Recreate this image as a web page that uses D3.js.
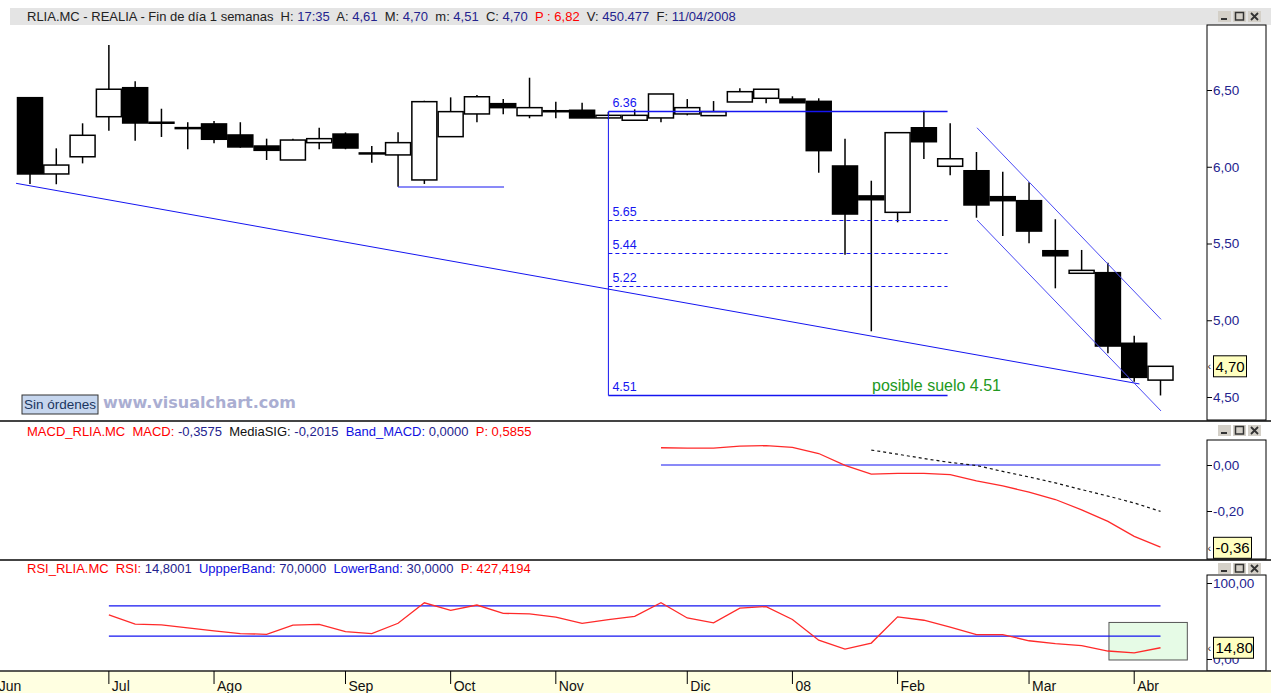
<!DOCTYPE html>
<html lang="es">
<head>
<meta charset="utf-8">
<script src="https://cdn.jsdelivr.net/npm/d3@7"></script>
<style>
  body { margin: 0; background: #fff; }
  svg { display: block; font-family: "Liberation Sans", Arial, sans-serif; }
</style>
</head>
<body>
<script>
// velas semanales RLIA.MC (jun 2007 - abr 2008)
const opens  = [6.45, 5.953, 6.065, 6.326, 6.515, 6.29, 6.255, 6.279, 6.207, 6.135, 6.044, 6.157, 6.213, 6.09, 6.077,
                5.914, 6.196, 6.344, 6.411, 6.333, 6.365, 6.368, 6.318, 6.303, 6.318, 6.344, 6.333, 6.422, 6.446, 6.441,
                6.426, 6.005, 5.81, 5.703, 6.254, 6.003, 5.974, 5.805, 5.779, 5.453, 5.306, 5.31, 4.85, 4.61];
const highs  = [6.45, 6.12, 6.283, 6.793, 6.557, 6.378, 6.29, 6.298, 6.29, 6.183, 6.183, 6.254, 6.224, 6.135, 6.224,
                6.43, 6.452, 6.467, 6.441, 6.58, 6.424, 6.417, 6.357, 6.374, 6.474, 6.441, 6.428, 6.511, 6.505, 6.459,
                6.446, 6.183, 5.909, 6.222, 6.365, 6.283, 6.096, 5.968, 5.899, 5.658, 5.458, 5.375, 4.899, 4.70];
const lows   = [5.888, 5.886, 6.022, 6.235, 6.17, 6.194, 6.114, 6.153, 6.124, 6.044, 6.044, 6.114, 6.114, 6.026, 5.87,
                5.888, 6.196, 6.29, 6.342, 6.316, 6.316, 6.318, 6.31, 6.30, 6.29, 6.335, 6.333, 6.422, 6.413, 6.417,
                5.961, 5.427, 4.928, 5.638, 6.05, 5.944, 5.668, 5.549, 5.501, 5.208, 5.306, 4.785, 4.60, 4.51];
const closes = [5.953, 6.011, 6.205, 6.505, 6.285, 6.29, 6.25, 6.179, 6.129, 6.107, 6.174, 6.183, 6.122, 6.09, 6.157,
                6.424, 6.359, 6.456, 6.385, 6.385, 6.365, 6.318, 6.335, 6.335, 6.474, 6.385, 6.359, 6.489, 6.505, 6.417,
                6.105, 5.692, 5.785, 6.222, 6.163, 6.052, 5.751, 5.779, 5.581, 5.42, 5.325, 4.832, 4.628, 4.70];

// MACD y senal (desde la semana 24 / 32)
const macdStart = 24;
const macdValues = [0.075, 0.073, 0.073, 0.082, 0.084, 0.077, 0.050, -0.002, -0.040, -0.036, -0.036, -0.042,
                    -0.069, -0.091, -0.118, -0.150, -0.195, -0.245, -0.310, -0.3575];
const signalStart = 32;
const signalValues = [0.065, 0.047, 0.028, 0.011, -0.002, -0.028, -0.052, -0.078, -0.107, -0.135, -0.165, -0.2015];

// RSI (desde la semana 3)
const rsiStart = 3;
const rsiValues = [58, 46, 45, 41, 37, 33.5, 32.5, 44.5, 45.5, 36, 33.5, 47, 74, 64, 71, 60, 59.5, 55, 47, 51.9, 56,
                   74, 54, 47.6, 67, 69, 52, 24.7, 13, 21, 55.5, 51, 42, 32, 32, 24, 20.3, 17.5, 10.5, 8, 14.8];

const monthLabels = ["Jun", "Jul", "Ago", "Sep", "Oct", "Nov", "Dic", "08", "Feb", "Mar", "Abr"];
const monthWeeks  = [-1.3, 3, 7, 12, 16, 20, 25, 29, 33, 38, 42];

const priceTicks = [4.5, 5, 5.5, 6, 6.5];
const macdTicks = [0, -0.2];
const rsiTicks = [0, 100];
const rsiBands = [70, 30];

// dibujo: lineas de tendencia [semana, precio]
const trendLong = [[-0.53, 5.892], [42.2, 4.585]];
const supportLine = [[14, 5.868], [18.03, 5.868]];
const channelUpper = [[36.02, 6.254], [43.02, 5.006]];
const channelLower = [[36.02, 5.653], [43.02, 4.409]];
const fibLevels = [6.36, 5.65, 5.44, 5.22, 4.51];
const fibWeeks = [22, 34.9];

const W = 1271, H = 693;
const svg = d3.select("body").append("svg").attr("width", W).attr("height", H);

const loc = d3.formatLocale({decimal: ",", thousands: ".", grouping: [3], currency: ["", ""], minus: "-"});
const fmt2 = loc.format(".2f");

const x = d3.scaleLinear().domain([0, 43]).range([30, 1160.5]);
const y = d3.scaleLinear().domain([4.5, 6.5]).range([397, 90]);
const yM = d3.scaleLinear().domain([-0.2, 0]).range([511, 465]);
const yR = d3.scaleLinear().domain([0, 100]).range([659, 583]);

const navy = "#23238e";

// marcos
svg.append("rect").attr("x", 10).attr("y", 8).attr("width", W - 10).attr("height", 17).attr("fill", "#e4e4e4");
[421, 560].forEach(v => svg.append("line").attr("x1", 0).attr("x2", W).attr("y1", v).attr("y2", v)
  .attr("stroke", "#444").attr("stroke-width", 2));
const boxes = [[25, 420], [440, 559], [575, 671]];
boxes.forEach((b, i) => {
  svg.append("clipPath").attr("id", "ax" + i).append("rect")
    .attr("x", -1).attr("y", b[0]).attr("width", 60).attr("height", b[1] - b[0]);
  svg.append("rect").attr("x", 1207).attr("y", b[0]).attr("width", 59).attr("height", b[1] - b[0])
    .attr("fill", "#fff").attr("stroke", "#000");
});

// botones de ventana
function buttons(y0) {
  const g = svg.append("g").attr("transform", `translate(1218,${y0})`);
  [0, 15, 30].forEach((dx, i) => {
    g.append("rect").attr("x", dx).attr("y", 0).attr("width", 13).attr("height", 11).attr("fill", "#d4d0c8");
    if (i === 0) g.append("rect").attr("x", dx + 3).attr("y", 7).attr("width", 6).attr("height", 2).attr("fill", "#333");
    if (i === 1) g.append("rect").attr("x", dx + 2.5).attr("y", 1.5).attr("width", 8).attr("height", 7.5)
      .attr("fill", "none").attr("stroke", "#333").attr("stroke-width", 1.5);
    if (i === 2) g.append("path").attr("d", `M${dx + 3},2L${dx + 10},9M${dx + 10},2L${dx + 3},9`)
      .attr("stroke", "#333").attr("stroke-width", 1.8);
  });
}
buttons(11); buttons(425); buttons(563);

// textos de cabecera
function header(yb, parts) {
  const t = svg.append("text").attr("x", 27).attr("y", yb).attr("font-size", 13).attr("xml:space", "preserve");
  parts.forEach(p => t.append("tspan").attr("fill", p[1]).text(p[0]));
}
header(21, [["RLIA.MC - REALIA - Fin de día 1 semanas  H: ", "#222"], ["17:35", navy], ["  A: ", "#222"], ["4,61", navy],
  ["  M: ", "#222"], ["4,70", navy], ["  m: ", "#222"], ["4,51", navy], ["  C: ", "#222"], ["4,70", navy],
  ["  P : 6,82", "#f00"], ["  V: ", "#222"], ["450.477", navy], ["  F: ", "#222"], ["11/04/2008", navy]]);
header(436, [["MACD_RLIA.MC  MACD: ", "#f00"], ["-0,3575", navy], ["  MediaSIG: ", "#111"], ["-0,2015", navy],
  ["  Band_MACD: ", "#1010e0"], ["0,0000", navy], ["  P: 0,5855", "#f00"]]);
header(573, [["RSI_RLIA.MC  RSI: ", "#f00"], ["14,8001", navy], ["  UppperBand: ", "#1010e0"], ["70,0000", navy],
  ["  LowerBand: ", "#1010e0"], ["30,0000", navy], ["  P: 427,4194", "#f00"]]);

// ejes de valores
function valueAxis(scale, ticks, i) {
  const g = svg.append("g").attr("transform", "translate(1207,0)").attr("clip-path", `url(#ax${i})`)
    .call(d3.axisRight(scale).tickValues(ticks).tickSize(5).tickPadding(1).tickFormat(fmt2));
  g.select(".domain").remove();
  g.selectAll("text").attr("fill", navy).attr("font-size", 13.5).attr("font-family", "Liberation Sans, Arial, sans-serif");
  g.selectAll("line").attr("stroke", "#000");
}
valueAxis(y, priceTicks, 0);
valueAxis(yM, macdTicks, 1);
valueAxis(yR, rsiTicks, 2);

function valueTag(yv, label, w) {
  svg.append("text").attr("x", 1207.5).attr("y", yv + 4).attr("font-size", 11).attr("fill", "#333").text("‹");
  svg.append("rect").attr("x", 1213.5).attr("y", yv - 10.5).attr("width", w).attr("height", 21)
    .attr("fill", "#ffffc0").attr("stroke", "#000");
  svg.append("text").attr("x", 1215.5).attr("y", yv + 5.5).attr("font-size", 15).attr("fill", "#000").text(label);
}

// velas
const candles = svg.append("g");
opens.forEach((o, i) => {
  const c = closes[i], cx = x(i);
  candles.append("line").attr("x1", cx).attr("x2", cx).attr("y1", y(highs[i])).attr("y2", y(lows[i]))
    .attr("stroke", "#000").attr("stroke-width", 1.5);
  const top = y(Math.max(o, c)), bot = y(Math.min(o, c));
  candles.append("rect").attr("x", cx - 12.5).attr("width", 25)
    .attr("y", top).attr("height", Math.max(1, bot - top))
    .attr("fill", c >= o ? "#fff" : "#000").attr("stroke", "#000").attr("stroke-width", 1.5);
});

// lineas de dibujo
const seg = d3.line().x(d => x(d[0])).y(d => y(d[1]));
svg.append("path").attr("d", seg(trendLong)).attr("stroke", "#1515f0").attr("fill", "none");
svg.append("path").attr("d", seg(supportLine)).attr("stroke", "#1515f0").attr("fill", "none");
[channelUpper, channelLower].forEach(l => svg.append("path").attr("d", seg(l))
  .attr("stroke", "#4a4af5").attr("fill", "none"));

svg.append("line").attr("x1", x(fibWeeks[0])).attr("x2", x(fibWeeks[0]))
  .attr("y1", y(fibLevels[0])).attr("y2", y(fibLevels[4])).attr("stroke", "#1515f0");
fibLevels.forEach((f, i) => {
  const solid = i === 0 || i === fibLevels.length - 1;
  const yy = Math.round(y(f)) + 0.5;
  svg.append("line").attr("x1", x(fibWeeks[0])).attr("x2", x(fibWeeks[1])).attr("y1", yy).attr("y2", yy)
    .attr("stroke", "#1515f0").attr("stroke-width", solid ? 1.3 : 1).attr("stroke-dasharray", solid ? null : "4,3");
  svg.append("text").attr("x", x(fibWeeks[0]) + 4).attr("y", yy - 5).attr("font-size", 12.5)
    .attr("fill", "#1515f0").text(f.toFixed(2));
});

svg.append("text").attr("x", 872).attr("y", 391).attr("font-size", 16).attr("fill", "#229922")
  .text("posible suelo 4.51");

svg.append("rect").attr("x", 22).attr("y", 395).attr("width", 76).attr("height", 19)
  .attr("fill", "#c6d6ee").attr("stroke", "#333");
svg.append("text").attr("x", 24).attr("y", 409).attr("font-size", 13.5).attr("fill", "#1a3560").text("Sin órdenes");
svg.append("text").attr("x", 103).attr("y", 408).attr("font-size", 16).attr("font-weight", "bold")
  .attr("font-family", "DejaVu Sans, Verdana, sans-serif")
  .attr("fill", "#aaaed2").text("www.visualchart.com");

valueTag(y(4.70), "4,70", 33);

// MACD
svg.append("line").attr("x1", x(macdStart)).attr("x2", x(43)).attr("y1", yM(0)).attr("y2", yM(0)).attr("stroke", "#1515f0");
svg.append("path").datum(macdValues)
  .attr("d", d3.line().x((d, i) => x(macdStart + i)).y(d => yM(d)))
  .attr("fill", "none").attr("stroke", "#ff2a2a").attr("stroke-width", 1.3);
svg.append("path").datum(signalValues)
  .attr("d", d3.line().x((d, i) => x(signalStart + i)).y(d => yM(d)))
  .attr("fill", "none").attr("stroke", "#111").attr("stroke-width", 1.2).attr("stroke-dasharray", "3,3");
valueTag(yM(-0.36), "-0,36", 38);

// RSI
svg.append("rect").attr("x", x(41.04)).attr("width", x(44.02) - x(41.04))
  .attr("y", yR(48.1)).attr("height", yR(-1.3) - yR(48.1))
  .attr("fill", "#e6fbe6").attr("stroke", "#555");
rsiBands.forEach(b => svg.append("line").attr("x1", x(rsiStart)).attr("x2", x(43))
  .attr("y1", yR(b)).attr("y2", yR(b)).attr("stroke", "#1515f0").attr("stroke-width", 1.3));
svg.append("path").datum(rsiValues)
  .attr("d", d3.line().x((d, i) => x(rsiStart + i)).y(d => yR(d)))
  .attr("fill", "none").attr("stroke", "#ff2a2a").attr("stroke-width", 1.3);
valueTag(yR(14.8), "14,80", 40);

// eje temporal
svg.append("rect").attr("x", 0).attr("y", 671).attr("width", W).attr("height", 22).attr("fill", "#ffffe1");
svg.append("line").attr("x1", 0).attr("x2", W).attr("y1", 671).attr("y2", 671).attr("stroke", "#222").attr("stroke-width", 1.5);
monthWeeks.forEach((w, i) => {
  svg.append("line").attr("x1", x(w)).attr("x2", x(w)).attr("y1", 671).attr("y2", 684).attr("stroke", "#000");
  svg.append("text").attr("x", x(w) + 3).attr("y", 691).attr("font-size", 14).attr("fill", "#111").text(monthLabels[i]);
});
</script>
</body>
</html>
